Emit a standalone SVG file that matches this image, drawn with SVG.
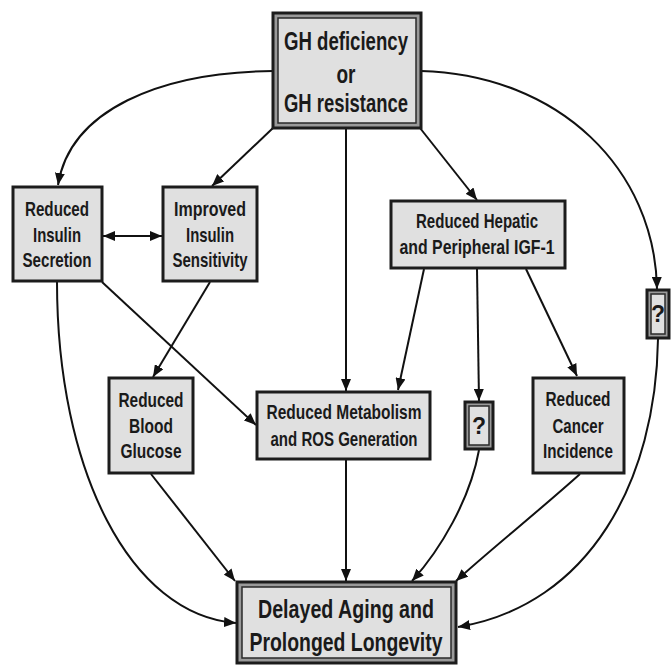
<svg xmlns="http://www.w3.org/2000/svg" width="671" height="665" viewBox="0 0 671 665">
<defs>
<style>
.box{fill:#e0e0e0;stroke:#1c1c1c;stroke-width:3}
.outer{fill:#9a9a9a;stroke:#1c1c1c;stroke-width:3}
.inner{fill:#e0e0e0;stroke:#2a2a2a;stroke-width:1.5}
.t{font-family:'Liberation Sans',Arial,sans-serif;font-weight:bold;fill:#1a1a1a;text-anchor:middle}
.s20{font-size:21px}
.s25{font-size:25px}
.q{font-size:23px}
.c{fill:none;stroke:#111;stroke-width:2}
</style>
<marker id="ah" markerWidth="12" markerHeight="10" refX="12" refY="5" orient="auto-start-reverse" markerUnits="userSpaceOnUse">
<path d="M0,0 L12,5 L0,10 z" fill="#111"/>
</marker>
</defs>
<rect width="671" height="665" fill="#ffffff"/>

<g id="connectors">
<path class="c" d="M273,71 C160,72 70,110 58,185" marker-end="url(#ah)"/>
<path class="c" d="M273,128 L212,186" marker-end="url(#ah)"/>
<path class="c" d="M346,128 L346,391" marker-end="url(#ah)"/>
<path class="c" d="M420,128 L477,200" marker-end="url(#ah)"/>
<path class="c" d="M421,71 C560,75 655,170 657,289" marker-end="url(#ah)"/>
<path class="c" d="M103,236 L162,236" marker-start="url(#ah)" marker-end="url(#ah)"/>
<path class="c" d="M57,282 C57,470 130,615 236,623" marker-end="url(#ah)"/>
<path class="c" d="M102,282 L256,425" marker-end="url(#ah)"/>
<path class="c" d="M210,282 L153,377" marker-end="url(#ah)"/>
<path class="c" d="M151,474 L235,581" marker-end="url(#ah)"/>
<path class="c" d="M346,460 L346,581" marker-end="url(#ah)"/>
<path class="c" d="M424,269 L398,390" marker-end="url(#ah)"/>
<path class="c" d="M477,269 L479,401" marker-end="url(#ah)"/>
<path class="c" d="M526,269 L577,376" marker-end="url(#ah)"/>
<path class="c" d="M479,450 C470,500 440,550 412,581" marker-end="url(#ah)"/>
<path class="c" d="M580,474 C540,510 490,550 456,581" marker-end="url(#ah)"/>
<path class="c" d="M658,339 C656,480 590,605 458,627" marker-end="url(#ah)"/>
</g>

<g id="gh">
<rect class="outer" x="273" y="13" width="148" height="115"/>
<rect class="inner" x="278" y="18" width="138" height="105"/>
<text class="t s25" x="346" y="50" textLength="124" lengthAdjust="spacingAndGlyphs">GH deficiency</text>
<text class="t s25" x="346" y="83" textLength="19" lengthAdjust="spacingAndGlyphs">or</text>
<text class="t s25" x="346" y="112" textLength="124" lengthAdjust="spacingAndGlyphs">GH resistance</text>
</g>

<g id="secretion">
<rect class="box" x="13" y="187" width="89" height="94"/>
<text class="t s20" x="57" y="216" textLength="64" lengthAdjust="spacingAndGlyphs">Reduced</text>
<text class="t s20" x="57" y="242" textLength="48" lengthAdjust="spacingAndGlyphs">Insulin</text>
<text class="t s20" x="57" y="267" textLength="69" lengthAdjust="spacingAndGlyphs">Secretion</text>
</g>

<g id="sensitivity">
<rect class="box" x="163" y="187" width="94" height="94"/>
<text class="t s20" x="210" y="216" textLength="72" lengthAdjust="spacingAndGlyphs">Improved</text>
<text class="t s20" x="210" y="242" textLength="48" lengthAdjust="spacingAndGlyphs">Insulin</text>
<text class="t s20" x="210" y="267" textLength="75" lengthAdjust="spacingAndGlyphs">Sensitivity</text>
</g>

<g id="igf">
<rect class="box" x="391" y="201" width="174" height="67"/>
<text class="t s20" x="477" y="228" textLength="122" lengthAdjust="spacingAndGlyphs">Reduced Hepatic</text>
<text class="t s20" x="477" y="254" textLength="155" lengthAdjust="spacingAndGlyphs">and Peripheral IGF-1</text>
</g>

<g id="q-right">
<rect class="outer" x="647" y="290" width="22" height="48"/>
<rect class="inner" x="651" y="294" width="14" height="40"/>
<text class="t q" x="658" y="322">?</text>
</g>

<g id="glucose">
<rect class="box" x="109" y="378" width="84" height="95"/>
<text class="t s20" x="151" y="407" textLength="65" lengthAdjust="spacingAndGlyphs">Reduced</text>
<text class="t s20" x="151" y="433" textLength="44" lengthAdjust="spacingAndGlyphs">Blood</text>
<text class="t s20" x="151" y="458" textLength="61" lengthAdjust="spacingAndGlyphs">Glucose</text>
</g>

<g id="metabolism">
<rect class="box" x="257" y="392" width="173" height="67"/>
<text class="t s20" x="344" y="419" textLength="155" lengthAdjust="spacingAndGlyphs">Reduced Metabolism</text>
<text class="t s20" x="344" y="446" textLength="147" lengthAdjust="spacingAndGlyphs">and ROS Generation</text>
</g>

<g id="q-mid">
<rect class="outer" x="465" y="402" width="28" height="47"/>
<rect class="inner" x="469" y="406" width="20" height="39"/>
<text class="t q" x="479" y="434">?</text>
</g>

<g id="cancer">
<rect class="box" x="533" y="378" width="91" height="95"/>
<text class="t s20" x="578" y="406" textLength="65" lengthAdjust="spacingAndGlyphs">Reduced</text>
<text class="t s20" x="578" y="433" textLength="51" lengthAdjust="spacingAndGlyphs">Cancer</text>
<text class="t s20" x="578" y="458" textLength="70" lengthAdjust="spacingAndGlyphs">Incidence</text>
</g>

<g id="longevity">
<rect class="outer" x="237" y="582" width="219" height="81"/>
<rect class="inner" x="242" y="587" width="209" height="71"/>
<text class="t s25" x="346" y="618" textLength="176" lengthAdjust="spacingAndGlyphs">Delayed Aging and</text>
<text class="t s25" x="346" y="651" textLength="193" lengthAdjust="spacingAndGlyphs">Prolonged Longevity</text>
</g>
</svg>
